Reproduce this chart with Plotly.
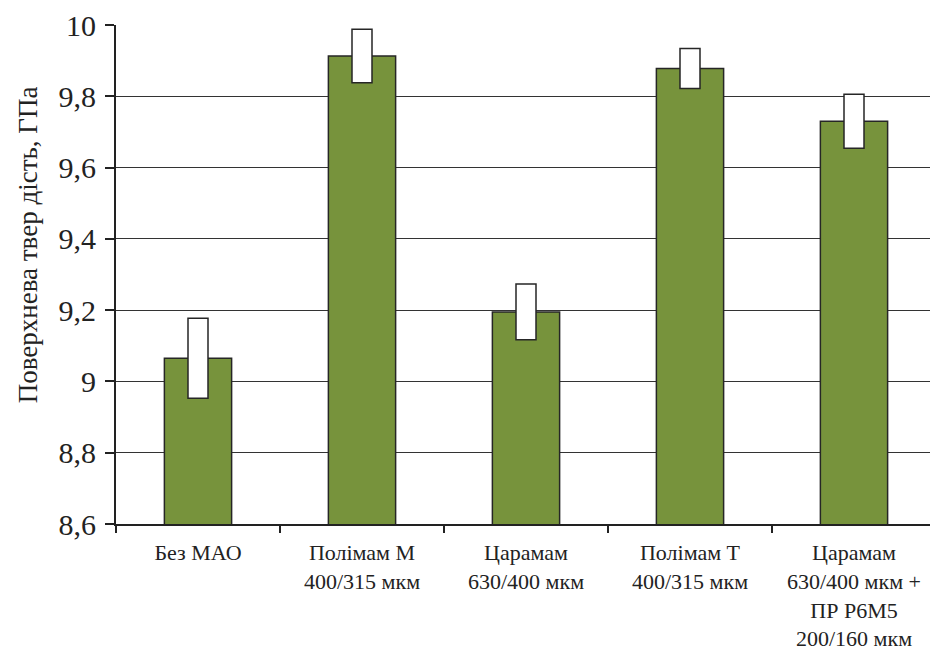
import plotly.graph_objects as go

categories = ["Без МАО", "Полімам М<br>400/315 мкм", "Царамам<br>630/400 мкм",
              "Полімам Т<br>400/315 мкм", "Царамам<br>630/400 мкм +<br>ПР Р6М5<br>200/160 мкм"]
hardness = [9.065, 9.913, 9.195, 9.878, 9.730]
error = [0.112, 0.075, 0.078, 0.056, 0.076]
ytick_vals = [8.6, 8.8, 9.0, 9.2, 9.4, 9.6, 9.8, 10.0]
ytick_text = ["8,6", "8,8", "9", "9,2", "9,4", "9,6", "9,8", "10"]
y_title = "Поверхнева твер дість, ГПа"

font_family = "'Liberation Serif', 'DejaVu Serif', serif"

fig = go.Figure()
fig.add_trace(go.Bar(
    x=categories, y=hardness, width=0.41,
    marker=dict(color="#77933C", line=dict(color="#262626", width=1.5)),
    showlegend=False, hoverinfo="y",
))
fig.add_trace(go.Bar(
    x=categories,
    y=[2 * e for e in error],
    base=[h - e for h, e in zip(hardness, error)],
    width=0.122,
    marker=dict(color="white", line=dict(color="#262626", width=1.5)),
    showlegend=False, hoverinfo="skip",
))

fig.update_layout(
    width=930, height=646,
    margin=dict(l=108, r=2, t=17, b=130),
    barmode="overlay",
    plot_bgcolor="white", paper_bgcolor="white",
    font=dict(family=font_family, color="#222"),
    xaxis=dict(
        type="category", tickson="boundaries", ticks="outside", ticklen=7,
        tickwidth=2, tickcolor="#222", automargin=False, ticklabelstandoff=8,
        showline=True, linecolor="#222", linewidth=2,
        showgrid=False, tickfont=dict(size=22, family=font_family, color="#222"),
        range=[-0.5, 4.5],
    ),
    yaxis=dict(
        range=[8.6, 10.0], tickvals=ytick_vals, ticktext=ytick_text,
        ticks="outside", ticklen=9, tickwidth=2, tickcolor="#222", automargin=False,
        ticklabelstandoff=3,
        showline=True, linecolor="#222", linewidth=2,
        showgrid=True, gridcolor="#333", gridwidth=1, zeroline=False,
        tickfont=dict(size=30, family=font_family, color="#222"),
    ),
    annotations=[dict(
        text=y_title, textangle=-90, xref="paper", yref="paper",
        x=-0.107, y=0.559, xanchor="center", yanchor="middle",
        showarrow=False, font=dict(size=27, family=font_family, color="#222"),
    )],
)

fig.write_html("out.html")
